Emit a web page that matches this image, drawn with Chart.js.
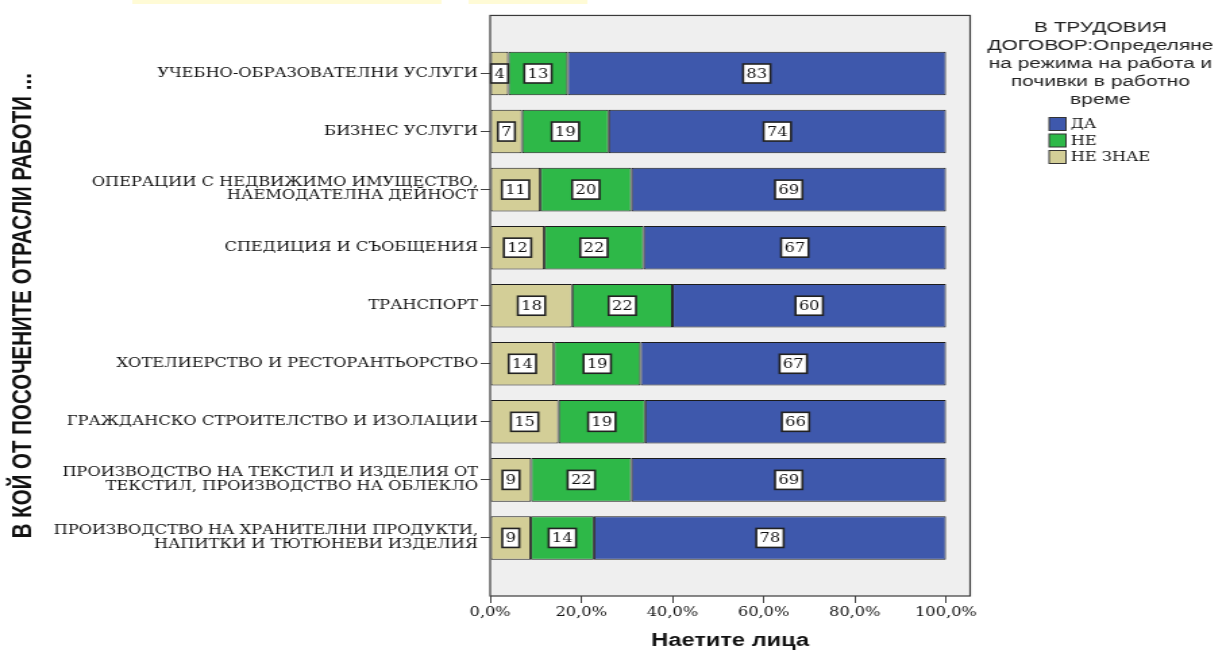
<!DOCTYPE html>
<html lang="bg">
<head>
<meta charset="utf-8">
<title>Определяне на режима на работа и почивки</title>
<script src="https://cdn.jsdelivr.net/npm/chart.js@4.4.1/dist/chart.umd.min.js"></script>
<style>
  html, body { margin: 0; padding: 0; background: #fff; overflow: hidden; }
  /* оригиналът е разтеглен хоризонтално, затова чертаем по-тясно и разтягаме */
  #kutia { width: 908px; height: 652px; transform: scaleX(1.3502); transform-origin: 0 0; }
</style>
</head>
<body>
<div id="kutia"><canvas id="grafica" width="908" height="652"></canvas></div>
<script>
// Отраслите (ос Y), отгоре надолу
const otrasli = [
  'УЧЕБНО-ОБРАЗОВАТЕЛНИ УСЛУГИ',
  'БИЗНЕС УСЛУГИ',
  ['ОПЕРАЦИИ С НЕДВИЖИМО ИМУЩЕСТВО,', 'НАЕМОДАТЕЛНА ДЕЙНОСТ'],
  'СПЕДИЦИЯ И СЪОБЩЕНИЯ',
  'ТРАНСПОРТ',
  'ХОТЕЛИЕРСТВО И РЕСТОРАНТЬОРСТВО',
  'ГРАЖДАНСКО СТРОИТЕЛСТВО И ИЗОЛАЦИИ',
  ['ПРОИЗВОДСТВО НА ТЕКСТИЛ И ИЗДЕЛИЯ ОТ', 'ТЕКСТИЛ, ПРОИЗВОДСТВО НА ОБЛЕКЛО'],
  ['ПРОИЗВОДСТВО НА ХРАНИТЕЛНИ ПРОДУКТИ,', 'НАПИТКИ И ТЮТЮНЕВИ ИЗДЕЛИЯ']
];
// Проценти по отговори (закръглени, както са изписани в стълбовете)
const neZnae = [4, 7, 11, 12, 18, 14, 15, 9, 9];
const ne     = [13, 19, 20, 22, 22, 19, 19, 22, 14];
const da     = [83, 74, 69, 67, 60, 67, 66, 69, 78];
// Деления на ос X
const xDelenia = [0, 20, 40, 60, 80, 100];

const legendaZaglavie = ['В ТРУДОВИЯ', 'ДОГОВОР:Определяне', 'на режима на работа и', 'почивки в работно', 'време'];

// всеки ред е 100% -> делим на сбора, за да няма препълване от закръглянето
const sborove = da.map((v, i) => v + ne[i] + neZnae[i]);

function serie(label, valores, color) {
  return {
    label: label,
    valores: valores,
    data: valores.map((v, i) => ({ x: v / sborove[i] * 100, y: i })),
    backgroundColor: color,
    borderColor: '#1c1c1c',
    borderWidth: 1,
    borderSkipped: false,
    categoryPercentage: 1,
    barPercentage: 0.75
  };
}

const serif = 'DejaVu Serif';

// Сив фон и рамка на областта на графиката + жълтите ивици горе
const fonPlugin = {
  id: 'fon',
  beforeDraw(chart) {
    const { ctx, chartArea: a } = chart;
    ctx.save();
    ctx.fillStyle = '#fffbd6';
    ctx.fillRect(98, 0, 229, 4);
    ctx.fillRect(347, 0, 88, 4);
    ctx.fillStyle = '#efefef';
    ctx.fillRect(a.left, a.top, a.right - a.left, a.bottom - a.top);
    ctx.restore();
  },
  afterDatasetsDraw(chart) {
    const { ctx, chartArea: a } = chart;
    ctx.save();
    ctx.strokeStyle = '#3a3a3a';
    ctx.lineWidth = 1.2;
    ctx.strokeRect(a.left, a.top, a.right - a.left, a.bottom - a.top);
    ctx.restore();
  }
};

// Бели кутийки със стойностите в средата на всеки сегмент
const etiketiPlugin = {
  id: 'etiketi',
  afterDatasetsDraw(chart) {
    const ctx = chart.ctx;
    ctx.save();
    ctx.font = '12px "' + serif + '"';
    ctx.textAlign = 'center';
    ctx.textBaseline = 'middle';
    chart.data.datasets.forEach((ds, i) => {
      chart.getDatasetMeta(i).data.forEach((bar, j) => {
        const p = bar.getProps(['x', 'y', 'base'], true);
        const cx = (p.x + p.base) / 2;
        const txt = String(ds.valores[j]);
        const w = ctx.measureText(txt).width + 5;
        const h = 19;
        ctx.fillStyle = '#ffffff';
        ctx.fillRect(cx - w / 2, p.y - h / 2, w, h);
        ctx.strokeStyle = '#222';
        ctx.lineWidth = 1.6;
        ctx.strokeRect(cx - w / 2, p.y - h / 2, w, h);
        ctx.fillStyle = '#111';
        ctx.fillText(txt, cx, p.y + 1);
      });
    });
    ctx.restore();
  }
};

// Легенда отдясно: заглавие на няколко реда и квадратчета
const legendaPlugin = {
  id: 'legenda',
  afterDraw(chart) {
    const ctx = chart.ctx;
    ctx.save();
    ctx.fillStyle = '#222';
    ctx.font = '15.5px "Liberation Sans"';
    ctx.textAlign = 'center';
    ctx.textBaseline = 'middle';
    legendaZaglavie.forEach((red, k) => ctx.fillText(red, 815, 28 + k * 18));
    const nabori = chart.data.datasets.slice().reverse();
    ctx.font = '12px "' + serif + '"';
    ctx.textAlign = 'left';
    nabori.forEach((ds, k) => {
      const y = 124 + k * 16.5;
      ctx.fillStyle = ds.backgroundColor;
      ctx.fillRect(777, y - 6.5, 12.5, 13);
      ctx.strokeStyle = '#333';
      ctx.lineWidth = 1;
      ctx.strokeRect(777, y - 6.5, 12.5, 13);
      ctx.fillStyle = '#111';
      ctx.fillText(ds.label, 793, y + 1);
    });
    ctx.restore();
  }
};

new Chart(document.querySelector('#grafica'), {
  type: 'bar',
  data: {
    datasets: [
      serie('НЕ ЗНАЕ', neZnae, '#d3ce97'),
      serie('НЕ', ne, '#2eb848'),
      serie('ДА', da, '#3e58ac')
    ]
  },
  options: {
    responsive: false,
    animation: false,
    indexAxis: 'y',
    layout: { padding: { top: 7, right: 189.5, bottom: 0, left: 0 } },
    plugins: {
      legend: { display: false },
      tooltip: { enabled: false }
    },
    scales: {
      x: {
        type: 'linear',
        stacked: true,
        min: 0,
        max: 105.3,
        afterBuildTicks: s => { s.ticks = xDelenia.map(v => ({ value: v })); },
        afterFit: s => { s.height = 56; },
        ticks: {
          callback: v => v.toFixed(1).replace('.', ',') + '%',
          font: { family: serif, size: 12 },
          color: '#111',
          padding: 3,
          maxRotation: 0,
          autoSkip: false
        },
        grid: { drawOnChartArea: false, color: '#444', tickLength: 7 },
        border: { display: false },
        title: {
          display: true,
          text: 'Наетите лица',
          font: { family: 'Liberation Sans', size: 17.5, weight: 'bold' },
          color: '#111',
          padding: { top: 0, bottom: 0 }
        }
      },
      y: {
        type: 'linear',
        stacked: true,
        reverse: true,
        offset: false,
        min: -1,
        max: 9,
        afterBuildTicks: s => { s.ticks = otrasli.map((_, i) => ({ value: i })); },
        afterFit: s => { s.width = 363; },
        ticks: {
          callback: v => otrasli[v],
          font: { family: serif, size: 12, lineHeight: 1.12 },
          color: '#111',
          padding: 2,
          autoSkip: false
        },
        grid: { drawOnChartArea: false, offset: false, color: '#444', tickLength: 7 },
        border: { display: false },
        title: {
          display: true,
          text: 'В КОЙ ОТ ПОСОЧЕНИТЕ ОТРАСЛИ РАБОТИ ...',
          font: { family: 'Liberation Sans', size: 20.5, weight: 'bold' },
          color: '#111',
          padding: { top: 5, bottom: 0 }
        }
      }
    }
  },
  plugins: [fonPlugin, etiketiPlugin, legendaPlugin]
});
</script>
</body>
</html>
